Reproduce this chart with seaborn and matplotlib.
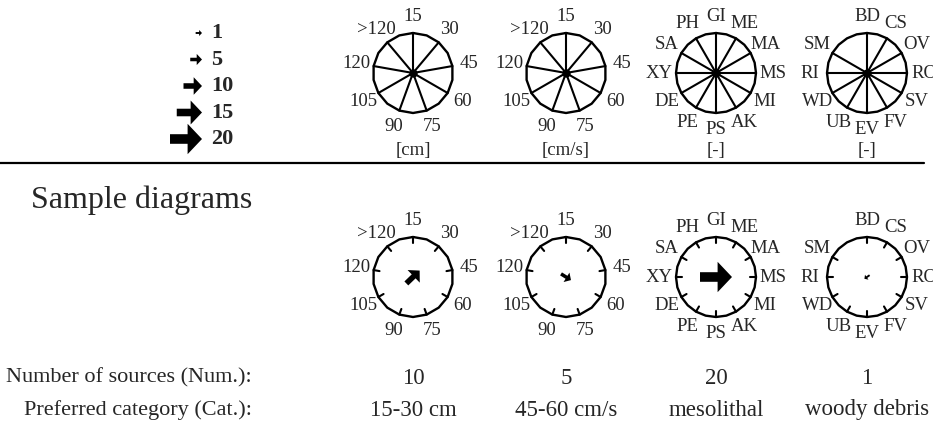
import numpy as np
import pandas as pd
import matplotlib
matplotlib.use("Agg")
import matplotlib.pyplot as plt
import seaborn as sns

# categories of each diagram, clockwise from the top
depth_cats = ['15', '30', '45', '60', '75', '90', '105', '120', '>120']
velocity_cats = ['15', '30', '45', '60', '75', '90', '105', '120', '>120']
substrate_cats = ['GI', 'ME', 'MA', 'MS', 'MI', 'AK', 'PS', 'PE', 'DE', 'XY', 'SA', 'PH']
micro_cats = ['BD', 'CS', 'OV', 'RO', 'SV', 'FV', 'EV', 'UB', 'WD', 'RI', 'SM']
units = ['[cm]', '[cm/s]', '[-]', '[-]']
slots = [9, 9, 12, 12]

# sample diagrams
num_sources = [10, 5, 20, 1]
arrow_dir = [44, -32, 0, -145]   # degrees
pref_cat = ['15-30 cm', '45-60 cm/s', 'mesolithal', 'woody debris']

legend_sizes = [1, 5, 10, 15, 20]

all_cats = [depth_cats, velocity_cats, substrate_cats, micro_cats]

sns.set_style("white")
plt.rcParams['font.family'] = ['Liberation Serif', 'DejaVu Serif']

fig = plt.figure(figsize=(9.33, 4.28), dpi=100)
ax = fig.add_axes([0, 0, 1, 1])
ax.set_xlim(0, 933)
ax.set_ylim(428, 0)
ax.axis('off')

col_x = [413, 566, 716, 867]
top_y, bot_y = 73, 277
R = 40
R_lab = 57


def angles(n_slots, n_cats):
    step = 360 / n_slots
    return np.radians(90 - step * np.arange(n_cats))


def polygon(ax, cx, cy, n_slots):
    a = np.radians(90 - 180 / n_slots * np.arange(2 * n_slots + 1))
    df = pd.DataFrame({'x': cx + R * np.cos(a), 'y': cy - R * np.sin(a)})
    sns.lineplot(data=df, x='x', y='y', sort=False, estimator=None,
                 color='black', lw=1.7, ax=ax)


def cat_labels(ax, cx, cy, cats, n_slots):
    for lab, a in zip(cats, angles(n_slots, len(cats))):
        ax.text(cx + R_lab * np.cos(a), cy - R_lab * np.sin(a), lab,
                ha='center', va='center', fontsize=13.5)


def arrow_len(n):
    return 5 + 1.35 * n


def draw_arrow(ax, x0, y0, ang, n):
    L = arrow_len(n)
    dx, dy = L * np.cos(np.radians(ang)), -L * np.sin(np.radians(ang))
    ax.arrow(x0, y0, dx, dy, width=0.3 * L, head_width=0.95 * L,
             head_length=0.45 * L, length_includes_head=True,
             color='black', lw=0)


# top row: reference diagrams
for cx, cats, ns, unit in zip(col_x, all_cats, slots, units):
    polygon(ax, cx, top_y, ns)
    for a in angles(ns, len(cats)):
        ax.plot([cx, cx + R * np.cos(a)], [top_y, top_y - R * np.sin(a)],
                color='black', lw=1.5)
    ax.scatter([cx], [top_y], s=25, color='black', zorder=3)
    cat_labels(ax, cx, top_y, cats, ns)
    ax.text(cx, 151, unit, ha='center', va='center', fontsize=13.5)

# legend of arrow sizes
for i, n in enumerate(legend_sizes):
    y = 33 + 26.5 * i
    L = arrow_len(n)
    draw_arrow(ax, 202 - L, y, 0, n)
    ax.text(211, y, str(n), ha='left', va='center', fontsize=16,
            fontweight='bold')

ax.plot([0, 924], [163, 163], color='black', lw=1.6)
ax.text(31, 200, 'Sample diagrams', ha='left', va='center', fontsize=23)

# bottom row: sample diagrams
for cx, cats, ns, n, d in zip(col_x, all_cats, slots, num_sources, arrow_dir):
    polygon(ax, cx, bot_y, ns)
    for a in angles(ns, len(cats)):
        ax.plot([cx + R * np.cos(a), cx + (R - 6) * np.cos(a)],
                [bot_y - R * np.sin(a), bot_y - (R - 6) * np.sin(a)],
                color='black', lw=1.5)
    cat_labels(ax, cx, bot_y, cats, ns)
    L = arrow_len(n)
    draw_arrow(ax, cx - L / 2 * np.cos(np.radians(d)),
               bot_y + L / 2 * np.sin(np.radians(d)), d, n)

ax.text(252, 378, 'Number of sources (Num.):', ha='right', va='center', fontsize=16)
ax.text(252, 410, 'Preferred category (Cat.):', ha='right', va='center', fontsize=16)
for cx, n, c in zip(col_x, num_sources, pref_cat):
    ax.text(cx, 378, str(n), ha='center', va='center', fontsize=16.5)
    ax.text(cx, 410, c, ha='center', va='center', fontsize=16.5)

ax.set_xlim(0, 933)
ax.set_ylim(428, 0)
fig.savefig('out.png', dpi=100)
